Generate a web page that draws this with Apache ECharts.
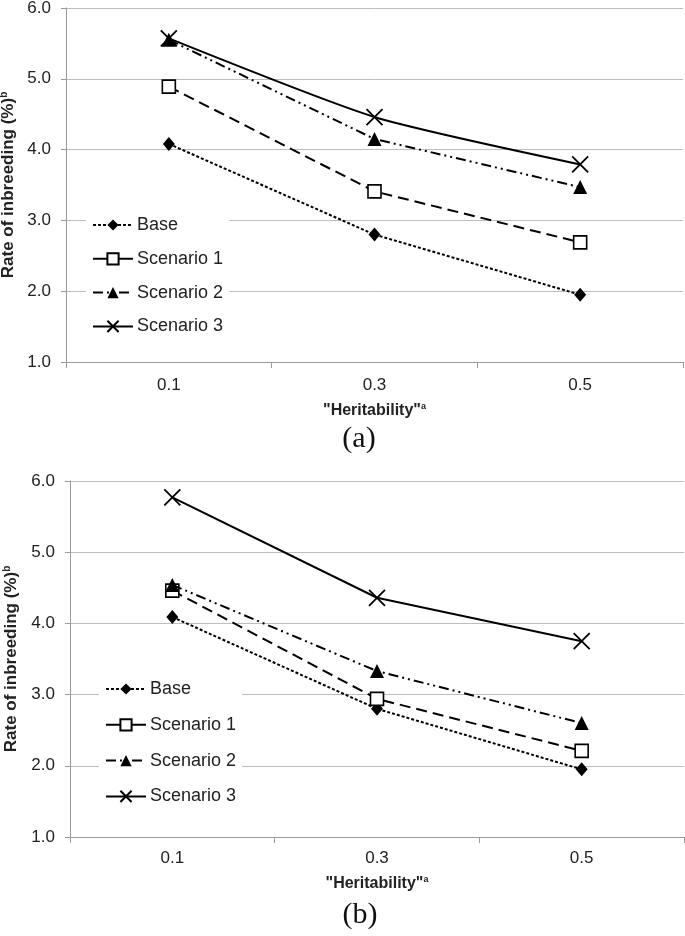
<!DOCTYPE html>
<html>
<head>
<meta charset="utf-8">
<script src="https://cdn.jsdelivr.net/npm/echarts@6/dist/echarts.min.js"></script>
<style>html,body{margin:0;padding:0;background:#fff}#c{width:685px;height:936px}</style>
</head>
<body>
<div id="c"></div>
<script>
const categories = ['0.1', '0.3', '0.5'];
const seriesNames = ['Base', 'Scenario 1', 'Scenario 2', 'Scenario 3'];
// Panel (a)
const baseA = [4.08, 2.80, 1.95];
const scen1A = [4.89, 3.41, 2.69];
const scen2A = [5.55, 4.15, 3.47];
const scen3A = [5.57, 4.46, 3.79];
// Panel (b)
const baseB = [4.09, 2.80, 1.95];
const scen1B = [4.46, 2.94, 2.21];
const scen2B = [4.54, 3.33, 2.60];
const scen3B = [5.77, 4.36, 3.75];
const yMin = 1, yMax = 6, yStep = 1;
const panelLabels = ['(a)', '(b)'];

const X_PATH = 'path://M0,0L20,20M20,0L0,20';
const styles = [
  {symbol: 'diamond', symbolSize: [12, 14], line: {type: [3, 2], width: 2}, item: {color: '#000', borderColor: '#000', borderWidth: 0}},
  {symbol: 'rect', symbolSize: 13, line: {type: [11, 6], width: 2}, item: {color: '#fff', borderColor: '#000', borderWidth: 1.6}},
  {symbol: 'triangle', symbolSize: 14, line: {type: [10, 4, 2, 4, 2, 4], width: 2}, item: {color: '#000', borderColor: '#000', borderWidth: 0}},
  {symbol: X_PATH, symbolSize: 16, line: {type: 'solid', width: 2}, item: {color: 'none', borderColor: '#000', borderWidth: 1.8}}
];

function makeSeries(dataArr, idx, smoothFlags) {
  return dataArr.map((d, i) => ({
    type: 'line', name: seriesNames[i], xAxisIndex: idx, yAxisIndex: idx,
    data: d, symbol: styles[i].symbol, symbolSize: styles[i].symbolSize,
    showAllSymbol: true, smooth: smoothFlags[i],
    lineStyle: Object.assign({color: '#000'}, styles[i].line),
    itemStyle: styles[i].item,
    emphasis: {disabled: true}, animation: false, z: 3 + i
  }));
}

const fontNum = 'Liberation Sans, Arial, sans-serif';
function xAxisCfg(idx, margin, nameGap) {
  return {
    type: 'category', gridIndex: idx, data: categories, boundaryGap: true,
    axisLine: {lineStyle: {color: '#9a9a9a', width: 1}},
    axisTick: {show: true, length: 6, lineStyle: {color: '#9a9a9a'}},
    axisLabel: {color: '#222', fontSize: 17, fontFamily: fontNum, margin: margin},
    name: '"Heritability"{sup|a}', nameLocation: 'middle', nameGap: nameGap,
    nameTextStyle: {color: '#222', fontSize: 16, fontWeight: 'bold', fontFamily: fontNum,
      rich: {sup: {fontSize: 9, fontWeight: 'bold', verticalAlign: 'top', padding: [0, 0, 8, 0], fontFamily: fontNum}}}
  };
}
function yAxisCfg(idx, nameGap) {
  return {
    type: 'value', gridIndex: idx, min: yMin, max: yMax, interval: yStep,
    axisLine: {show: true, lineStyle: {color: '#9a9a9a', width: 1}},
    axisTick: {show: true, length: 5, lineStyle: {color: '#9a9a9a'}},
    splitLine: {lineStyle: {color: '#bdbdbd', width: 1}},
    axisLabel: {color: '#222', fontSize: 17, fontFamily: fontNum, margin: 15, formatter: v => v.toFixed(1)},
    name: 'Rate of inbreeding (%){sup|b}', nameLocation: 'middle', nameGap: nameGap,
    nameTextStyle: {color: '#222', fontSize: 17, fontWeight: 'bold', fontFamily: fontNum,
      rich: {sup: {fontSize: 10, fontWeight: 'bold', padding: [0, 0, 8, 0], fontFamily: fontNum}}}
  };
}
const legendLineOverrides = [null, {type: 'solid'}, null, null];
function legendCfg(left, top, gap) {
  return {
    orient: 'vertical', left: left, top: top, itemWidth: 40, itemHeight: 14, itemGap: gap,
    backgroundColor: '#fff', padding: [4, 6, 4, 6],
    data: seriesNames.map((n, i) => legendLineOverrides[i] ? {name: n, lineStyle: legendLineOverrides[i]} : n),
    textStyle: {color: '#222', fontSize: 18, lineHeight: 16, fontFamily: fontNum, padding: [0, 0, 0, -1]},
    selectedMode: false
  };
}

const chart = echarts.init(document.getElementById('c'), null, {renderer: 'canvas'});
chart.setOption({
  backgroundColor: '#fff',
  animation: false,
  grid: [
    {left: 66, top: 8, width: 617, height: 354, outerBoundsMode: 'none', containLabel: false},
    {left: 70, top: 481, width: 614, height: 356, outerBoundsMode: 'none', containLabel: false}
  ],
  xAxis: [xAxisCfg(0, 15, 40), xAxisCfg(1, 13, 38)],
  yAxis: [yAxisCfg(0, 46), yAxisCfg(1, 50)],
  legend: [legendCfg(86, 212, 15.8), legendCfg(99, 676, 17.8)],
  series: [].concat(
    makeSeries([baseA, scen1A, scen2A, scen3A], 0, [false, false, false, 0.2]),
    makeSeries([baseB, scen1B, scen2B, scen3B], 1, [false, false, false, false])
  ),
  graphic: [
    {type: 'text', style: {text: panelLabels[0], x: 359, y: 439, align: 'center', verticalAlign: 'middle', font: '30px "Liberation Serif", "Times New Roman", serif', fill: '#111'}},
    {type: 'text', style: {text: panelLabels[1], x: 360, y: 915, align: 'center', verticalAlign: 'middle', font: '30px "Liberation Serif", "Times New Roman", serif', fill: '#111'}}
  ]
});
</script>
</body>
</html>
